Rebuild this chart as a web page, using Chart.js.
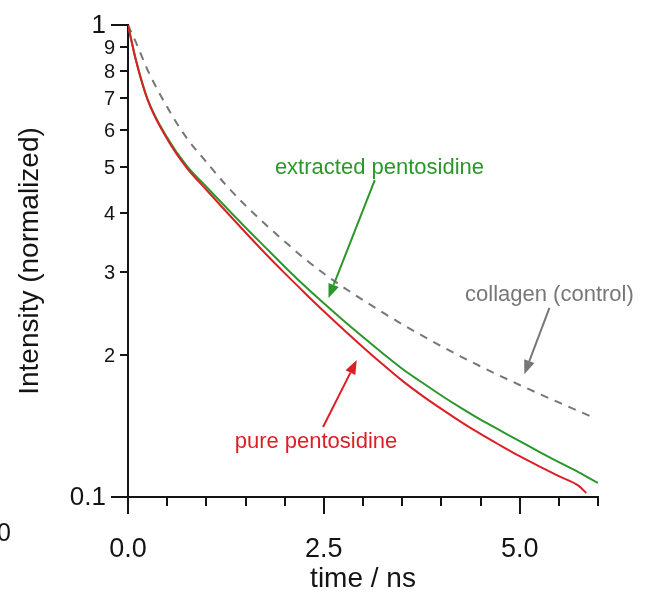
<!DOCTYPE html>
<html>
<head>
<meta charset="utf-8">
<script src="https://cdn.jsdelivr.net/npm/chart.js@4/dist/chart.umd.min.js"></script>
<style>
  html, body { margin: 0; padding: 0; background: #fff; }
  #wrap { width: 651px; height: 593px; }
</style>
</head>
<body>
<div id="wrap"><canvas id="decay"></canvas></div>
<script>
// fluorescence decay traces, normalized intensity vs. time (ns)
const sharedTime = [0, 0.1, 0.25, 0.5, 0.75, 1, 1.25, 1.5, 1.75, 2, 2.25, 2.5, 2.75,
  3, 3.25, 3.5, 3.75, 4, 4.25, 4.5, 4.75, 5, 5.25, 5.5, 5.75];

const pureTime = [...sharedTime, 5.85];
const pureIntensity = [1.0, 0.843, 0.694, 0.5734, 0.4981, 0.4477, 0.4031, 0.3634, 0.3285, 0.2981,
  0.2713, 0.2474, 0.2264, 0.2077, 0.1911, 0.1764, 0.1642, 0.1537, 0.1443, 0.1360, 0.1287,
  0.1220, 0.1161, 0.1107, 0.1057, 0.1020];

const extractedTime = [...sharedTime, 6.0];
const extractedIntensity = [1.0, 0.845, 0.697, 0.5776, 0.5027, 0.4544, 0.4110, 0.3724, 0.3384, 0.3076,
  0.2806, 0.2573, 0.2366, 0.2182, 0.2017, 0.1870, 0.1750, 0.1641, 0.1545, 0.1459, 0.1384,
  0.1313, 0.1246, 0.1185, 0.1129, 0.1071];

const collagenTime = [...sharedTime, 5.9];
const collagenIntensity = [1.0, 0.920, 0.803, 0.670, 0.576, 0.5126, 0.4581, 0.4146, 0.3788, 0.3478,
  0.3202, 0.2975, 0.2782, 0.2613, 0.2461, 0.2323, 0.2200, 0.2087, 0.1984, 0.1891, 0.1806,
  0.1727, 0.1654, 0.1586, 0.1521, 0.1484];

const xTicks = [0, 0.5, 1, 1.5, 2, 2.5, 3, 3.5, 4, 4.5, 5, 5.5, 6];
const xMajorTicks = [0, 2.5, 5];
const xTickLabels = ['0.0', '2.5', '5.0'];

const yTicks = [0.1, 0.2, 0.3, 0.4, 0.5, 0.6, 0.7, 0.8, 0.9, 1];
const yTickLabels = ['0.1', '2', '3', '4', '5', '6', '7', '8', '9', '1'];

const RED = '#dc1f26';
const GREEN = '#2b972b';
const GREY = '#777777';
const INK = '#141414';
const FONT = '"Liberation Sans", Arial, Helvetica, sans-serif';

// text callouts with arrows, anchored in data coordinates (time, intensity)
const callouts = [
  { text: 'extracted pentosidine', color: GREEN, at: [3.21, 0.498], from: [3.15, 0.469], to: [2.56, 0.264] },
  { text: 'collagen (control)', color: GREY, at: [5.38, 0.268], from: [5.38, 0.2515], to: [5.06, 0.182] },
  { text: 'pure pentosidine', color: RED, at: [2.40, 0.1307], from: [2.49, 0.1407], to: [2.92, 0.195] }
];

const zip = (xs, ys) => xs.map((t, i) => ({ x: t, y: ys[i] }));

function drawArrow(ctx, x0, y0, x1, y1, color) {
  const ang = Math.atan2(y1 - y0, x1 - x0);
  const head = 14, half = 5.5;
  const bx = x1 - head * Math.cos(ang);
  const by = y1 - head * Math.sin(ang);
  ctx.strokeStyle = color;
  ctx.lineWidth = 2;
  ctx.beginPath();
  ctx.moveTo(x0, y0);
  ctx.lineTo(bx, by);
  ctx.stroke();
  ctx.fillStyle = color;
  ctx.beginPath();
  ctx.moveTo(x1, y1);
  ctx.lineTo(bx + half * Math.sin(ang), by - half * Math.cos(ang));
  ctx.lineTo(bx - half * Math.sin(ang), by + half * Math.cos(ang));
  ctx.closePath();
  ctx.fill();
}

// tick marks of two lengths, y tick labels, callouts
const decorations = {
  id: 'decorations',
  afterDraw(chart) {
    const { ctx, chartArea } = chart;
    const x = chart.scales.x;
    const y = chart.scales.y;
    const axisX = chartArea.left;
    const axisY = chartArea.bottom;
    ctx.save();
    ctx.strokeStyle = INK;
    ctx.fillStyle = INK;
    ctx.lineWidth = 2;

    yTicks.forEach((v, i) => {
      const py = Math.round(y.getPixelForValue(v));
      const major = (i === 0 || i === yTicks.length - 1);
      const len = major ? 17 : 8;
      ctx.beginPath();
      ctx.moveTo(axisX - len, py);
      ctx.lineTo(axisX, py);
      ctx.stroke();
      ctx.font = (major ? '26px ' : '20px ') + FONT;
      ctx.textAlign = 'right';
      ctx.textBaseline = 'middle';
      ctx.fillText(yTickLabels[i], axisX - len - 5, py + 1);
    });

    xTicks.forEach(v => {
      const px = Math.round(x.getPixelForValue(v));
      const len = xMajorTicks.includes(v) ? 17 : 9;
      ctx.beginPath();
      ctx.moveTo(px, axisY);
      ctx.lineTo(px, axisY + len);
      ctx.stroke();
    });

    // cut-off label of the neighbouring panel's axis
    ctx.font = '25px ' + FONT;
    ctx.textAlign = 'right';
    ctx.textBaseline = 'middle';
    ctx.fillText('0', 11, 534);

    ctx.font = '22px ' + FONT;
    ctx.textAlign = 'center';
    callouts.forEach(c => {
      ctx.fillStyle = c.color;
      ctx.fillText(c.text, x.getPixelForValue(c.at[0]), y.getPixelForValue(c.at[1]));
      drawArrow(ctx,
        x.getPixelForValue(c.from[0]), y.getPixelForValue(c.from[1]),
        x.getPixelForValue(c.to[0]), y.getPixelForValue(c.to[1]), c.color);
    });
    ctx.restore();
  }
};

new Chart(document.getElementById('decay'), {
  type: 'line',
  data: {
    datasets: [
      { label: 'pure pentosidine', data: zip(pureTime, pureIntensity), borderColor: RED },
      { label: 'extracted pentosidine', data: zip(extractedTime, extractedIntensity), borderColor: GREEN },
      { label: 'collagen (control)', data: zip(collagenTime, collagenIntensity), borderColor: GREY, borderDash: [8, 7] }
    ]
  },
  options: {
    responsive: true,
    maintainAspectRatio: false,
    animation: false,
    layout: { padding: { left: 0, top: 25, right: 53, bottom: 0 } },
    elements: {
      point: { radius: 0 },
      line: { borderWidth: 2, cubicInterpolationMode: 'monotone', fill: false }
    },
    plugins: {
      legend: { display: false },
      tooltip: { enabled: false }
    },
    scales: {
      x: {
        type: 'linear',
        min: 0,
        max: 6,
        afterBuildTicks: scale => { scale.ticks = xTicks.map(v => ({ value: v })); },
        afterFit: scale => { scale.height = 96; },
        grid: { display: false, drawTicks: false },
        border: { display: true, color: INK, width: 2 },
        ticks: {
          autoSkip: false,
          maxRotation: 0,
          padding: 36,
          color: INK,
          font: { family: FONT, size: 27 },
          callback: v => {
            const k = xMajorTicks.indexOf(v);
            return k >= 0 ? xTickLabels[k] : '';
          }
        },
        title: {
          display: true,
          text: 'time / ns',
          color: INK,
          font: { family: FONT, size: 28, lineHeight: 1 },
          padding: { top: 0, bottom: 0 }
        }
      },
      y: {
        type: 'logarithmic',
        min: 0.1,
        max: 1,
        afterBuildTicks: scale => { scale.ticks = yTicks.map(v => ({ value: v })); },
        afterFit: scale => { scale.width = 128; },
        grid: { display: false, drawTicks: false },
        border: { display: true, color: INK, width: 2 },
        ticks: { display: false },
        title: {
          display: true,
          text: 'Intensity (normalized)',
          color: INK,
          font: { family: FONT, size: 28, lineHeight: 1.2 },
          padding: { top: 13, bottom: 0 }
        }
      }
    }
  },
  plugins: [decorations]
});
</script>
</body>
</html>
